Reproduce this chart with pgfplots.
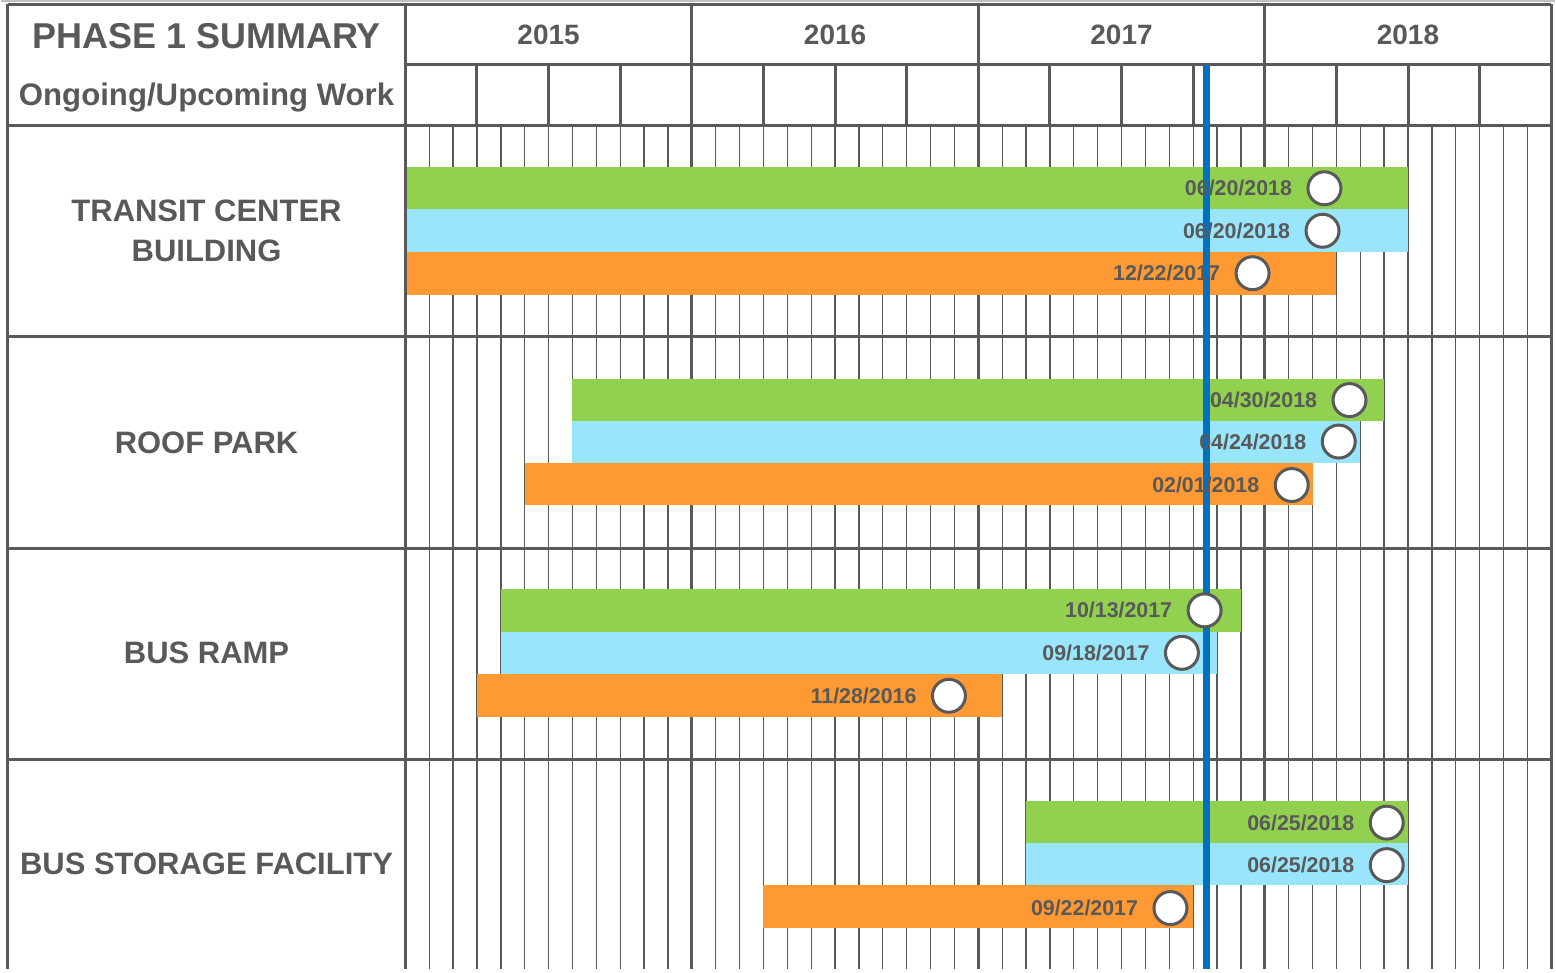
\documentclass[border=0pt]{standalone}
\usepackage{pgfplots}
\pgfplotsset{compat=1.18}
\usepackage{fontspec}
\setmainfont{Liberation Sans}
\definecolor{cgreen}{HTML}{92D050}
\definecolor{cblue}{HTML}{99E5FB}
\definecolor{corange}{HTML}{FF9933}
\definecolor{cline}{HTML}{0070C0}
\definecolor{cgray}{HTML}{595959}
\begin{document}
\begin{tikzpicture}
\begin{axis}[
  scale only axis, width=778pt, height=485pt,
  xmin=-16.948, xmax=48.167, ymin=0, ymax=970, y dir=reverse,
  hide axis, clip=false,
]
\path (rel axis cs:0,0) rectangle (rel axis cs:1,1);
% faint top line
\draw[black!25, line width=0.8pt] (axis cs:-16.948,1) -- (axis cs:48.167,1);
% month grid in body
\pgfplotsinvokeforeach{1,...,47}{
  \draw[cgray, line width=0.65pt] (axis cs:#1,126) -- (axis cs:#1,970);
}
\pgfplotsinvokeforeach{12,24,36}{
  \draw[cgray, line width=1.4pt] (axis cs:#1,126) -- (axis cs:#1,970);
}
% quarter lines in header row 2
\pgfplotsinvokeforeach{3,6,...,45}{
  \draw[cgray, line width=1.5pt] (axis cs:#1,65) -- (axis cs:#1,126);
}
% year lines in header row 1
\pgfplotsinvokeforeach{12,24,36}{
  \draw[cgray, line width=1.5pt] (axis cs:#1,5) -- (axis cs:#1,65);
}
% ---- bars: Transit Center Building
\addplot[fill=cgreen, draw=none] coordinates {(0,167.5) (42,167.5) (42,209.5) (0,209.5)};
\addplot[fill=cblue, draw=none] coordinates {(0,209.5) (42,209.5) (42,252) (0,252)};
\addplot[fill=corange, draw=none] coordinates {(0,252) (39,252) (39,295) (0,295)};
% ---- Roof Park
\addplot[fill=cgreen, draw=none] coordinates {(7,379.5) (41,379.5) (41,421) (7,421)};
\addplot[fill=cblue, draw=none] coordinates {(7,421) (40,421) (40,463.5) (7,463.5)};
\addplot[fill=corange, draw=none] coordinates {(5,463.5) (38,463.5) (38,506) (5,506)};
% ---- Bus Ramp
\addplot[fill=cgreen, draw=none] coordinates {(4,590) (35,590) (35,633) (4,633)};
\addplot[fill=cblue, draw=none] coordinates {(4,633) (34,633) (34,675) (4,675)};
\addplot[fill=corange, draw=none] coordinates {(3,675) (25,675) (25,718) (3,718)};
% ---- Bus Storage Facility
\addplot[fill=cgreen, draw=none] coordinates {(26,802) (42,802) (42,844) (26,844)};
\addplot[fill=cblue, draw=none] coordinates {(26,844) (42,844) (42,886) (26,886)};
\addplot[fill=corange, draw=none] coordinates {(15,886) (33,886) (33,929) (15,929)};
% frame lines
\draw[cgray, line width=1.5pt] (axis cs:-16.656,5) -- (axis cs:48,5);
\draw[cgray, line width=1.5pt] (axis cs:0,65) -- (axis cs:48,65);
\pgfplotsinvokeforeach{126,337.3,548.6,760}{
  \draw[cgray, line width=1.5pt] (axis cs:-16.656,#1) -- (axis cs:48,#1);
}
\draw[cgray, line width=1.5pt] (axis cs:-16.656,4.25) -- (axis cs:-16.656,970);
\draw[cgray, line width=1.5pt] (axis cs:0,4.25) -- (axis cs:0,970);
\draw[cgray, line width=1.5pt] (axis cs:48,4.25) -- (axis cs:48,970);
% circles and date labels
\addplot[only marks, mark=*, mark size=8.25pt,
  mark options={fill=white, draw=cgray, line width=1.5pt},
  nodes near coords, point meta=explicit symbolic,
  every node near coord/.append style={anchor=east, xshift=-15.5pt, yshift=0pt,
    inner sep=0pt, text=cgray, font=\fontsize{10.7}{12}\selectfont\bfseries}]
  table[meta=label]{
x y label
38.50 188.5 06/20/2018
38.42 231 06/20/2018
35.49 273.5 12/22/2017
39.55 400.5 04/30/2018
39.10 442 04/24/2018
37.13 485.5 02/01/2018
33.48 611 10/13/2017
32.53 653.5 09/18/2017
22.77 696.5 11/28/2016
41.11 823.5 06/25/2018
41.11 866 06/25/2018
32.05 909 09/22/2017
};
% today line
\addplot[cline, line width=3.5pt] coordinates {(33.55,65) (33.55,970)};
% header texts
\node[anchor=base, text=cgray, font=\fontsize{18}{20}\selectfont\bfseries] at (axis cs:-8.33,49) {PHASE 1 SUMMARY};
\node[anchor=base, text=cgray, font=\fontsize{15.6}{18}\selectfont\bfseries] at (axis cs:-8.33,106) {Ongoing/Upcoming Work};
\node[anchor=base, text=cgray, font=\fontsize{14}{16}\selectfont\bfseries] at (axis cs:6,45) {2015};
\node[anchor=base, text=cgray, font=\fontsize{14}{16}\selectfont\bfseries] at (axis cs:18,45) {2016};
\node[anchor=base, text=cgray, font=\fontsize{14}{16}\selectfont\bfseries] at (axis cs:30,45) {2017};
\node[anchor=base, text=cgray, font=\fontsize{14}{16}\selectfont\bfseries] at (axis cs:42,45) {2018};
% row labels
\node[align=center, text=cgray, font=\fontsize{15.5}{20}\selectfont\bfseries] at (axis cs:-8.33,231) {TRANSIT CENTER\\BUILDING};
\node[text=cgray, font=\fontsize{15.5}{20}\selectfont\bfseries] at (axis cs:-8.33,443) {ROOF PARK};
\node[text=cgray, font=\fontsize{15.5}{20}\selectfont\bfseries] at (axis cs:-8.33,654) {BUS RAMP};
\node[text=cgray, font=\fontsize{15.5}{20}\selectfont\bfseries] at (axis cs:-8.33,865) {BUS STORAGE FACILITY};
\end{axis}
\end{tikzpicture}
\end{document}
